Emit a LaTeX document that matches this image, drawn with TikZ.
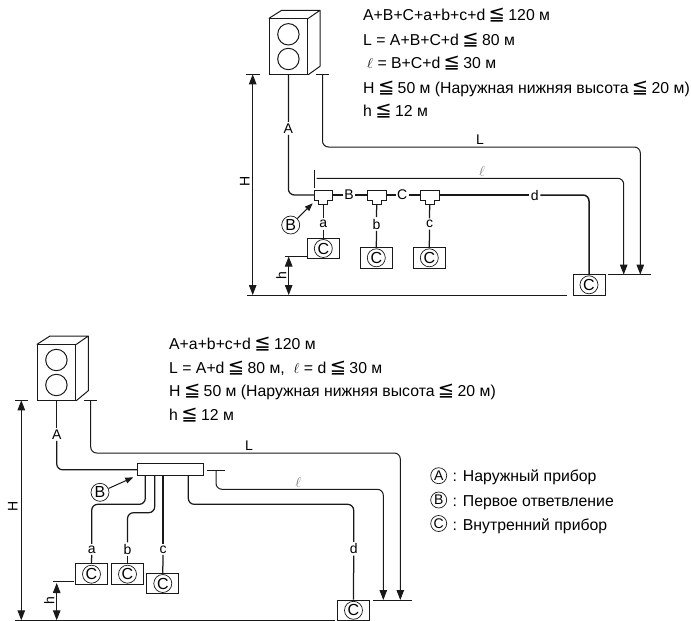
\documentclass[tikz,border=0pt]{standalone}
\usepackage{fontspec}
\usetikzlibrary{arrows.meta}
\setmainfont{Liberation Sans}
\newfontfamily\symf{DejaVu Sans}
\newcommand{\leqq}{{\kern-1pt\symf\fontsize{19.5}{16}\selectfont ≦\kern-1pt}}
\definecolor{ink}{gray}{0.1}
\tikzset{
  thin line/.style={draw=ink,line width=1pt},
  pipe/.style={draw=ink,line width=1.25pt,rounded corners=6pt},
  dimline/.style={draw=ink,line width=1pt,rounded corners=6pt},
  headend/.style={-{Triangle[length=10pt,width=7.5pt]}},
  headstart/.style={{Triangle[length=10pt,width=7.5pt]}-},
  headboth/.style={{Triangle[length=10pt,width=7.5pt]}-{Triangle[length=10pt,width=7.5pt]}},
  txt/.style={font=\fontsize{15.8}{18}\selectfont,anchor=base west,inner sep=0pt},
  lab/.style={font=\fontsize{14}{16}\selectfont,inner sep=1.5pt},
  ruler/.style={draw=ink,line width=1pt},
  circ/.style={circle,draw=ink,line width=0.7pt,minimum size=18pt,inner sep=0pt,font=\fontsize{16}{16}\selectfont},
  circsm/.style={circle,draw=ink,line width=0.7pt,minimum size=16pt,inner sep=0pt,font=\fontsize{14}{14}\selectfont},
  indoor/.style={draw=ink,line width=1pt,minimum width=32pt,minimum height=20.5pt,inner sep=0pt,fill=white},
  front/.style={draw=ink,line width=1pt,minimum width=38.4pt,minimum height=55.3pt,inner sep=0pt},
  fan/.style={circle,draw=ink,line width=1pt,minimum size=21.4pt,inner sep=0pt},
  teebox/.style={draw=ink,line width=1pt,fill=white},
  rot/.style={lab,rotate=90}
}
\begin{document}
\begin{tikzpicture}[x=1pt,y=-1pt]
\useasboundingbox (0,0) rectangle (691,621);
% ---------- upper diagram ----------
\node[front] (out1) at (288.5,46.6) {};
\draw[thin line,line join=round] (out1.north west) -- (281.7,10.3) -- (320,10.3) -- (out1.north east) (320,10.3) -- (320,66.3) -- (out1.south east);
\node[fan] (f1a) at (288.4,34.3) {};
\node[fan] (f1b) at (288.4,59) {};
% text
\node[txt] (t1) at (363,20.7) {A+B+C+a+b+c+d \leqq\ 120 м};
\node[txt] (t2) at (363,45) {L = A+B+C+d \leqq\ 80 м};
\node[txt] (t3) at (367,68.6) {$\ell$ = B+C+d \leqq\ 30 м};
\node[txt] (t4) at (363,93) {H \leqq\ 50 м (Наружная нижняя высота \leqq\ 20 м)};
\node[txt] (t5) at (363,116.7) {h \leqq\ 12 м};
% ticks
\coordinate (hT) at (252.7,74.3);
\coordinate (lT) at (322.5,74.3);
\draw[ruler] (246.3,74.3) -- (259.7,74.3);
\draw[ruler] (316,74.3) -- (329.3,74.3);
\coordinate (gndA) at (252.7,295);
\draw[ruler] (246.7,295) coordinate (g1) -- (567,295) coordinate (g2);
\draw[ruler,headboth] (hT) -- (gndA);
\node[rot] (H1) at (244.7,181) {H};
% tees
\foreach \n/\x in {tee1/323.3,tee2/376.7,tee3/429.7}{
  \draw[teebox] (\x-9.3,190.3) -- (\x+9.3,190.3) -- (\x+9.3,200) -- (\x+4.6,200) -- (\x+4.6,204.7) -- (\x-4.6,204.7) -- (\x-4.6,200) -- (\x-9.3,200) -- cycle;
  \coordinate (\n W) at (\x-9.3,195);
  \coordinate (\n E) at (\x+9.3,195);
  \coordinate (\n S) at (\x,204.7);
}
% indoor units
\node[indoor] (ia) at (323.3,248.5) {};
\node[indoor] (ib) at (376.3,257.8) {};
\node[indoor] (ic) at (429.3,257.8) {};
\node[indoor] (id) at (589,284.8) {};
\node[circ] (ca) at (ia) {C};
\node[circ] (cb) at (ib) {C};
\node[circ] (cc) at (ic) {C};
\node[circ] (cd) at (id) {C};
% labels
\node[lab] (LA1) at (288.4,128.3) {A};
\node[lab] (LB1) at (349,195) {B};
\node[lab] (LC1) at (402.3,195) {C};
\node[lab] (Ld1) at (534.7,195) {d};
\node[lab] (La1) at (323.3,224) {a};
\node[lab] (Lb1) at (376.5,224) {b};
\node[lab] (Lc1) at (429.5,224) {c};
\node[lab] (LL1) at (480,139.5) {L};
\node[lab,ink!60] (Ll1) at (482,171.5) {$\ell$};
% pipes
\draw[pipe] (out1.south) -- (LA1.north);
\draw[pipe] (LA1.south) |- (tee1W);
\draw[pipe] (tee1E) -- (LB1.west);
\draw[pipe] (LB1.east) -- (tee2W);
\draw[pipe] (tee2E) -- (LC1.west);
\draw[pipe] (LC1.east) -- (tee3W);
\draw[pipe] (tee3E) -- (Ld1.west);
\draw[pipe,line width=1.5pt] (Ld1.east) -| (id.north);
\draw[pipe] (tee1S) -- (La1.north);
\draw[pipe] (La1.south) -- (ia.north);
\draw[pipe] (tee2S) -- (Lb1.north);
\draw[pipe] (Lb1.south) -- (ib.north);
\draw[pipe] (tee3S) -- (Lc1.north);
\draw[pipe] (Lc1.south) -- (ic.north);
% L dim
\coordinate (LE1) at (640.3,274.6);
\coordinate (lE1) at (623.7,274.6);
\draw[ruler] (608,274.6) -- (651.3,274.6);
\draw[dimline,headstart,headend] (lT) -- (322.5,147) -- (640.3,147) -- (LE1);
% ell dim
\coordinate (lS1) at (316.7,178.3);
\draw[ruler] (314,170) -- (314,187.7);
\draw[dimline,headstart,headend] (lS1) -- (623.7,178.3) -- (lE1);
% h dim
\draw[ruler] (285,256) -- (ia.west |- 0,256);
\draw[ruler,headboth] (288.7,256.5) -- (288.7,295);
\node[rot] (h1) at (281.3,276) {h};
% B marker
\node[circ] (B1) at (290.7,225) {B};
\draw[ruler,-{Triangle[length=8pt,width=6pt]}] (B1) -- (312.7,203.3);
% ---------- lower diagram ----------
\node[front] (out2) at (56.5,372.6) {};
\draw[thin line,line join=round] (out2.north west) -- (50,336) -- (88.3,336) -- (out2.north east) (88.3,336) -- (88.3,390.7) -- (out2.south east);
\node[fan] (f2a) at (56.4,360) {};
\node[fan] (f2b) at (56.4,385) {};
\node[txt] (u1) at (169,349.3) {A+a+b+c+d \leqq\ 120 м};
\node[txt] (u2) at (169,373.3) {L = A+d \leqq\ 80 м,\ \ $\ell$ = d \leqq\ 30 м};
\node[txt] (u3) at (169,396.7) {H \leqq\ 50 м (Наружная нижняя высота \leqq\ 20 м)};
\node[txt] (u4) at (169,420.7) {h \leqq\ 12 м};
% legend
\node[circsm] (qa) at (438.7,475.7) {A};
\node[circsm] (qb) at (438.7,500) {B};
\node[circsm] (qc) at (438.7,523.5) {C};
\node[txt] (q1) at (452.5,481.7) {: Наружный прибор};
\node[txt] (q2) at (452.5,506.3) {: Первое ответвление};
\node[txt] (q3) at (452.5,530) {: Внутренний прибор};
% ticks
\draw[ruler] (14.7,400.3) -- (28,400.3);
\draw[ruler] (84,400.3) -- (97.3,400.3);
\draw[ruler] (14.7,620.3) -- (335,620.3);
\draw[ruler,headboth] (21.3,400.3) -- (21.3,620.3);
\node[rot] (H2) at (12.7,506) {H};
% manifold
\node[draw=ink,line width=1pt,fill=white,minimum width=66.4pt,minimum height=11.7pt,inner sep=0pt] (man) at (170.5,469.8) {};
% indoor
\node[indoor] (ja) at (91.5,574.2) {};
\node[indoor] (jb) at (127.5,574.2) {};
\node[indoor] (jc) at (162.8,583.5) {};
\node[indoor] (jd) at (353.5,610.3) {};
\node[circ] (da) at (ja) {C};
\node[circ] (db) at (jb) {C};
\node[circ] (dc) at (jc) {C};
\node[circ] (dd) at (jd) {C};
% labels
\node[lab] (LA2) at (56.7,434.3) {A};
\node[lab] (La2) at (91.7,549.3) {a};
\node[lab] (Lb2) at (127.5,549.3) {b};
\node[lab] (Lc2) at (163,549.3) {c};
\node[lab] (Ld2) at (353.7,548.7) {d};
\node[lab] (LL2) at (249,445.5) {L};
\node[lab,ink!60] (Ll2) at (298.3,482.5) {$\ell$};
% pipes
\draw[pipe] (out2.south -| LA2) -- (LA2.north);
\draw[pipe] (LA2.south) |- (man.west);
\draw[pipe] (145.3,475.7) -- (145.3,504.3) -- (91.7,504.3) -- (La2.north);
\draw[pipe] (La2.south) -- (ja.north);
\draw[pipe] (154.7,475.7) -- (154.7,512.7) -- (127.5,512.7) -- (Lb2.north);
\draw[pipe] (Lb2.south) -- (jb.north);
\draw[pipe] (163,475.7) -- (Lc2.north);
\draw[pipe] (Lc2.south) -- (jc.north);
\draw[pipe] (188.3,475.7) -- (188.3,504.3) -- (353.7,504.3) -- (Ld2.north);
\draw[pipe] (Ld2.south) -- (jd.north);
% L, ell dims
\draw[ruler] (373.3,600) -- (412.3,600);
\draw[dimline,headstart,headend] (90.7,400.3) -- (90.7,453) -- (400.3,453) -- (400.3,600);
\draw[ruler] (206.7,470) -- (224.7,470);
\draw[dimline,headstart,headend] (216,470) -- (216,489.3) -- (383.3,489.3) -- (383.3,600);
% h
\draw[ruler] (53.3,581.3) -- (74,581.3);
\draw[ruler,headboth] (56.7,583) -- (56.7,620.3);
\node[rot] (h2) at (49.3,601) {h};
% B
\node[circ] (B2) at (100,492.3) {B};
\draw[ruler,-{Triangle[length=8pt,width=6pt]}] (B2) -- (133.3,477.3);
\end{tikzpicture}
\end{document}
